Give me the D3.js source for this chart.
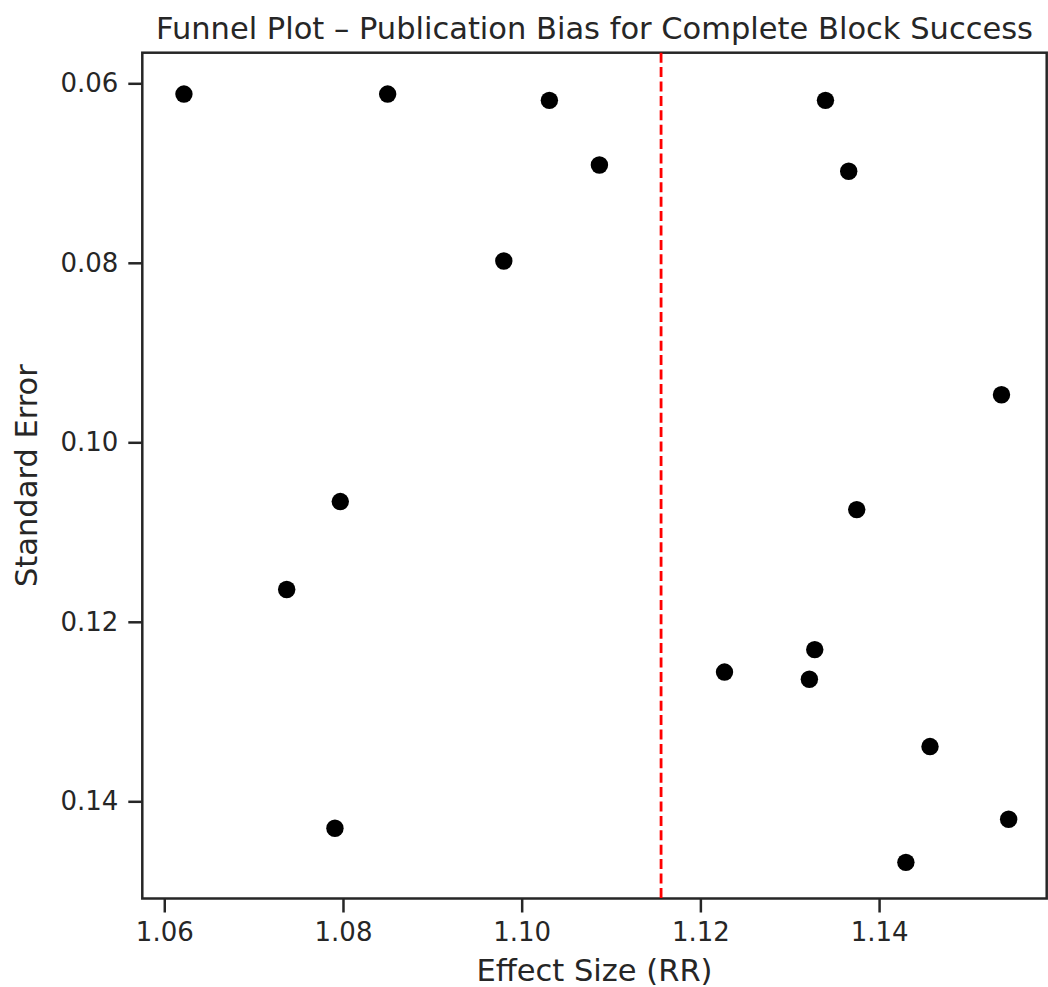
<!DOCTYPE html>
<html>
<meta charset="utf-8">
<style>
body { margin: 0; background: #fff; }
text { font-family: "DejaVu Sans", sans-serif; fill: #262626; }
.axis path, .axis line { stroke: #262626; }
</style>
<body>
<script src="https://cdn.jsdelivr.net/npm/d3@7"></script>
<script>

// effect size (RR) and standard error per study
var effect = [1.0622, 1.0850, 1.1031, 1.1087, 1.0980, 1.1340, 1.1366, 1.0797, 1.0737,
              1.0791, 1.1537, 1.1375, 1.1328, 1.1227, 1.1322, 1.1457, 1.1545, 1.1430];
var stderr = [0.0612, 0.0612, 0.0619, 0.0691, 0.0798, 0.0619, 0.0698, 0.1066, 0.1164,
              0.1430, 0.0947, 0.1075, 0.1231, 0.1256, 0.1264, 0.1339, 0.1420, 0.1468];
var pooled = 1.1156;
var xTicks = [1.06, 1.08, 1.10, 1.12, 1.14];
var yTicks = [0.06, 0.08, 0.10, 0.12, 0.14];
var xDomain = [1.05754, 1.15876];
var yDomain = [0.05659, 0.15083];

var W = 1048, H = 987;
var m = {top: 52.7, right: 1.3, bottom: 88.5, left: 142.3};
var w = W - m.left - m.right, h = H - m.top - m.bottom;

var svg = d3.select("body").append("svg").attr("width", W).attr("height", H);
var g = svg.append("g").attr("transform", "translate(" + m.left + "," + m.top + ")");

var x = d3.scaleLinear().domain(xDomain).range([0, w]);
var y = d3.scaleLinear().domain(yDomain).range([0, h]); // inverted: small SE at top

var xAxis = g.append("g").attr("class", "axis")
	.attr("transform", "translate(0," + h + ")")
	.call(d3.axisBottom(x).tickValues(xTicks).tickFormat(d3.format(".2f")).tickSize(14).tickPadding(10));
var yAxis = g.append("g").attr("class", "axis")
	.call(d3.axisLeft(y).tickValues(yTicks).tickFormat(d3.format(".2f")).tickSize(14).tickPadding(10));

g.selectAll(".axis .domain").remove();
g.selectAll(".axis line").attr("stroke-width", 2.5);
g.selectAll(".axis text").style("font-size", "26px").attr("fill", "#262626");

// frame
g.append("rect").attr("width", w).attr("height", h)
	.attr("fill", "none").attr("stroke", "#262626").attr("stroke-width", 2.5);

var pts = effect.map(function(d, i){ return {x: d, se: stderr[i]}; });
g.selectAll(".dot").data(pts).enter().append("circle").attr("class", "dot")
	.attr("cx", d => x(d.x))
	.attr("cy", d => y(d.se))
	.attr("r", 8.7)
	.attr("fill", "#000");

g.append("line")
	.attr("x1", x(pooled)).attr("x2", x(pooled))
	.attr("y1", 0).attr("y2", h)
	.attr("stroke", "red").attr("stroke-width", 2.8)
	.attr("stroke-dasharray", "10,4.4");

svg.append("text")
	.attr("x", m.left + w / 2).attr("y", 39)
	.attr("text-anchor", "middle").style("font-size", "30.5px")
	.text("Funnel Plot – Publication Bias for Complete Block Success");

svg.append("text")
	.attr("x", m.left + w / 2).attr("y", 981)
	.attr("text-anchor", "middle").style("font-size", "30.5px")
	.text("Effect Size (RR)");

svg.append("text")
	.attr("transform", "translate(37," + (m.top + h / 2) + ") rotate(-90)")
	.attr("text-anchor", "middle").style("font-size", "30.5px")
	.text("Standard Error");

</script>
</body>
</html>
